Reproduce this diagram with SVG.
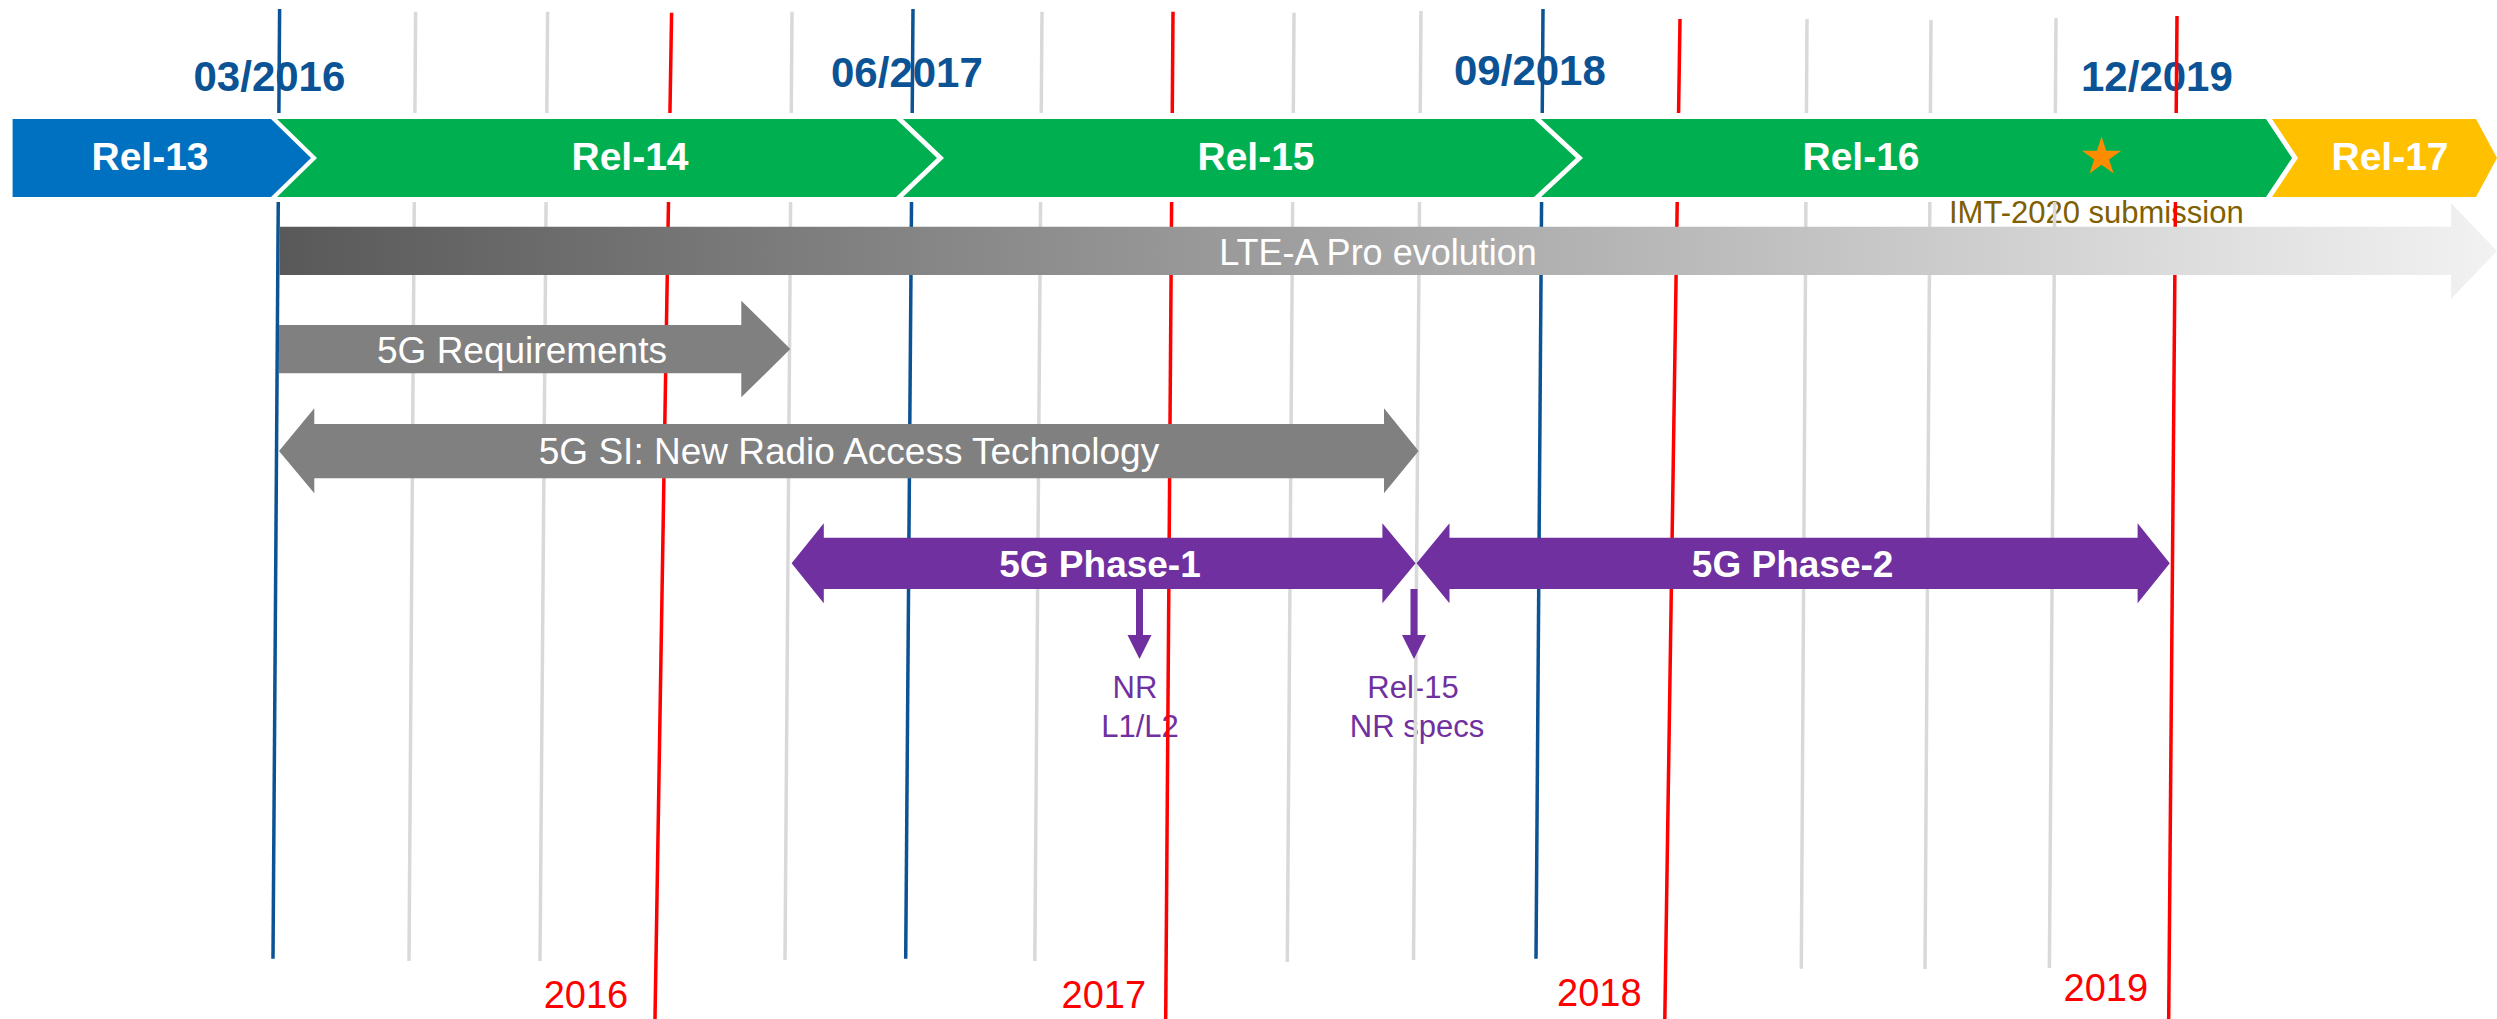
<svg xmlns="http://www.w3.org/2000/svg" width="2497" height="1019" viewBox="0 0 2497 1019">
<style>
text{font-family:"Liberation Sans",Arial,sans-serif}
.date{font-size:42px;font-weight:bold;fill:#0B5394}
.year{font-size:38px;fill:#FF0000}
.rel{font-size:39px;font-weight:bold;fill:#FFFFFF;text-anchor:middle}
.bar{font-size:37px;fill:#FFFFFF;text-anchor:middle}
.ph{font-size:37px;font-weight:bold;fill:#FFFFFF;text-anchor:middle}
.sm{font-size:31px;fill:#7030A0;text-anchor:middle}
.g{stroke:#D9D9D9;stroke-width:3.5}
.b{stroke:#0B5394;stroke-width:3.5}
.r{stroke:#FF0000;stroke-width:3.5}
.grn{fill:#00B050}
.pur{fill:#7030A0}
.gry{fill:#808080}
</style>
<defs>
<clipPath id="gap">
<rect x="0" y="0" width="2497" height="113"/>
<rect x="0" y="202" width="2497" height="817"/>
</clipPath>
<linearGradient id="lte" gradientUnits="userSpaceOnUse" x1="279" y1="0" x2="2497" y2="0">
<stop offset="0" stop-color="#595959"/>
<stop offset="1" stop-color="#F2F2F2"/>
</linearGradient>
</defs>
<rect width="2497" height="1019" fill="#FFFFFF"/>

<g id="dates">
<text class="date" x="193.5" y="90.5">03/2016</text>
<text class="date" x="831" y="86.5">06/2017</text>
<text class="date" x="1454" y="85">09/2018</text>
<text class="date" x="2081" y="90.5">12/2019</text>
</g>
<g id="years">
<text class="year" x="543.7" y="1007.7">2016</text>
<text class="year" x="1061.5" y="1007.7">2017</text>
<text class="year" x="1557" y="1006">2018</text>
<text class="year" x="2063.5" y="1000.7">2019</text>
</g>
<g id="imt-label">
<text x="1949" y="222.7" style="font-size:31px;fill:#7F6000">IMT-2020 submission</text>
</g>
<g id="nr-labels">
<text class="sm" x="1135" y="698.3">NR</text>
<text class="sm" x="1140" y="736.7">L1/L2</text>
<text class="sm" x="1413" y="698.3">Rel-15</text>
<text class="sm" x="1417" y="736.7">NR specs</text>
</g>

<g id="grid" clip-path="url(#gap)">
<line class="b" x1="279.6" y1="9" x2="273" y2="958.7"/>
<line class="g" x1="415.6" y1="11.7" x2="409" y2="961"/>
<line class="g" x1="547.6" y1="11.7" x2="540" y2="961"/>
<line class="r" x1="671.6" y1="12.7" x2="655" y2="1019"/>
<line class="g" x1="792" y1="11.7" x2="785" y2="960"/>
<line class="b" x1="913" y1="9" x2="905.7" y2="958.7"/>
<line class="g" x1="1042" y1="11.7" x2="1034.8" y2="961"/>
<line class="r" x1="1173" y1="11.7" x2="1165.7" y2="1019"/>
<line class="g" x1="1294" y1="12.7" x2="1287.3" y2="962"/>
<line class="g" x1="1421" y1="11" x2="1413.5" y2="960"/>
<line class="b" x1="1543" y1="9" x2="1536" y2="958.7"/>
<line class="r" x1="1680" y1="19" x2="1664.8" y2="1019"/>
<line class="g" x1="1807" y1="19" x2="1801.3" y2="968.7"/>
<line class="g" x1="1931" y1="20" x2="1925" y2="969"/>
<line class="g" x1="2056" y1="18" x2="2049.4" y2="968"/>
<line class="r" x1="2177" y1="16" x2="2168.7" y2="1019"/>
</g>

<g id="rel13">
<polygon points="12.6,119 271,119 311,158 271,197 12.6,197" fill="#0070C0"/>
<text class="rel" x="150" y="170">Rel-13</text>
</g>
<g id="rel14">
<polygon class="grn" points="277,119 896,119 937,158 896,197 277,197 317,158"/>
<text class="rel" x="630" y="170">Rel-14</text>
</g>
<g id="rel15">
<polygon class="grn" points="903,119 1534,119 1576,158 1534,197 903,197 944,158"/>
<text class="rel" x="1256" y="170">Rel-15</text>
</g>
<g id="rel16">
<polygon class="grn" points="1541,119 2266,119 2292,158 2266,197 1541,197 1583,158"/>
<text class="rel" x="1861" y="170">Rel-16</text>
<polygon points="2101.6,136.5 2106.2,150.7 2121.1,150.7 2109.05,159.4 2113.65,173.6 2101.6,164.8 2089.55,173.6 2094.15,159.4 2082.1,150.7 2097,150.7" fill="#FF8C00"/>
</g>
<g id="rel17">
<polygon points="2272,119 2476,119 2497,158 2476,197 2272,197 2298,158" fill="#FFC000"/>
<text class="rel" x="2390" y="170">Rel-17</text>
</g>

<g id="lte-a-pro">
<polygon points="279.6,226.7 2451,226.7 2451,203 2497,251 2451,299 2451,275 279.6,275" fill="url(#lte)"/>
<text class="bar" x="1378" y="265" style="font-size:36px">LTE-A Pro evolution</text>
</g>
<g id="req">
<polygon class="gry" points="279,325 741.3,325 741.3,300.7 790.3,349 741.3,397.3 741.3,373.3 279,373.3"/>
<text class="bar" x="522" y="362.7">5G Requirements</text>
</g>
<g id="si">
<polygon class="gry" points="279,451 314.3,408.3 314.3,424 1384,424 1384,408.3 1418.6,451 1384,493.3 1384,478.3 314.3,478.3 314.3,493.3"/>
<text class="bar" x="849" y="464">5G SI: New Radio Access Technology</text>
</g>
<g id="phase1">
<polygon class="pur" points="791.6,563.3 823.8,523.3 823.8,537.7 1382.4,537.7 1382.4,523.3 1415.6,563.3 1382.4,603.3 1382.4,589 823.8,589 823.8,603.3"/>
<text class="ph" x="1100" y="576.7">5G Phase-1</text>
</g>
<g id="phase2">
<polygon class="pur" points="1416.6,563.3 1449.5,523.3 1449.5,537.7 2137.6,537.7 2137.6,523.3 2169.8,563.3 2137.6,603.3 2137.6,589 1449.5,589 1449.5,603.3"/>
<text class="ph" x="1792.6" y="576.7">5G Phase-2</text>
</g>
<g id="connectors">
<polygon class="pur" points="1136,589 1143,589 1143,635 1151.5,635 1139.5,659 1127.5,635 1136,635"/>
<polygon class="pur" points="1410.5,589 1417.5,589 1417.5,635 1426,635 1414,659 1402,635 1410.5,635"/>
</g>
</svg>
